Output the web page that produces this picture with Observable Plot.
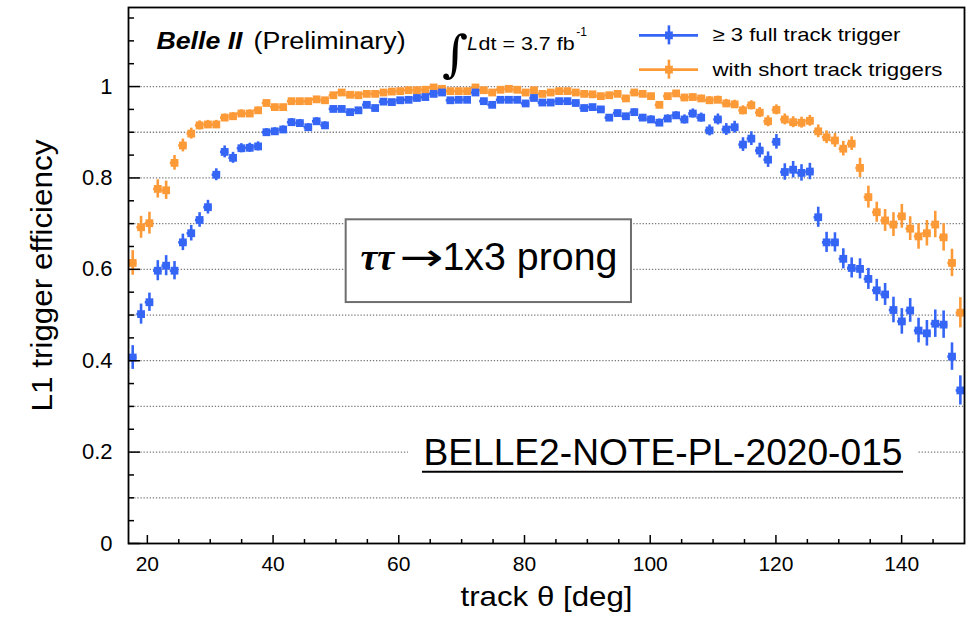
<!DOCTYPE html>
<html><head><meta charset="utf-8">
<script src="https://cdn.jsdelivr.net/npm/d3@7"></script>
<script src="https://cdn.jsdelivr.net/npm/@observablehq/plot@0.6"></script>
<style>
body{margin:0;background:#fff}
svg{font-family:"Liberation Sans",Arial,Helvetica,sans-serif}
</style>
</head><body><div id="chart"></div>
<script>
// ---- data ----
const theta = [17.67,19.00,20.33,21.66,22.99,24.32,25.65,26.98,28.31,29.64,30.97,32.30,33.63,34.96,36.29,37.62,38.95,40.28,41.61,42.94,44.27,45.60,46.93,48.26,49.59,50.92,52.25,53.58,54.91,56.24,57.57,58.90,60.23,61.56,62.89,64.22,65.55,66.88,68.21,69.54,70.87,72.20,73.53,74.86,76.19,77.52,78.85,80.18,81.51,82.84,84.17,85.50,86.83,88.16,89.49,90.82,92.15,93.48,94.81,96.14,97.47,98.80,100.13,101.46,102.79,104.12,105.45,106.78,108.11,109.44,110.77,112.10,113.43,114.76,116.09,117.42,118.75,120.08,121.41,122.74,124.07,125.40,126.73,128.06,129.39,130.72,132.05,133.38,134.71,136.04,137.37,138.70,140.03,141.36,142.69,144.02,145.35,146.68,148.01,149.34];
const binHalfWidth = 0.665;

const effFull = [0.407,0.502,0.528,0.597,0.608,0.597,0.659,0.679,0.708,0.736,
0.807,0.857,0.844,0.865,0.866,0.869,0.900,0.902,0.906,0.922,
0.920,0.911,0.924,0.915,0.951,0.951,0.944,0.948,0.960,0.953,
0.967,0.966,0.970,0.971,0.975,0.977,0.984,0.987,0.970,0.971,
0.971,0.987,0.968,0.960,0.971,0.971,0.971,0.963,0.975,0.965,
0.965,0.968,0.968,0.964,0.953,0.955,0.950,0.932,0.942,0.935,
0.944,0.932,0.928,0.921,0.930,0.937,0.928,0.941,0.932,0.904,
0.928,0.906,0.911,0.873,0.886,0.860,0.840,0.879,0.813,0.818,
0.811,0.814,0.714,0.659,0.659,0.623,0.603,0.601,0.579,0.554,
0.545,0.511,0.486,0.510,0.466,0.460,0.481,0.479,0.409,0.335];
const errFull = [0.026,0.022,0.020,0.022,0.022,0.020,0.018,0.017,0.016,0.015,
0.013,0.013,0.012,0.010,0.010,0.010,0.008,0.008,0.008,0.008,
0.008,0.008,0.008,0.008,0.006,0.006,0.006,0.006,0.006,0.006,
0.006,0.006,0.006,0.006,0.006,0.006,0.006,0.006,0.006,0.006,
0.006,0.006,0.006,0.006,0.006,0.006,0.006,0.006,0.006,0.006,
0.006,0.006,0.006,0.006,0.006,0.006,0.006,0.006,0.006,0.006,
0.007,0.007,0.008,0.008,0.008,0.008,0.010,0.010,0.010,0.012,
0.012,0.013,0.013,0.015,0.015,0.016,0.017,0.016,0.018,0.018,
0.018,0.018,0.022,0.022,0.021,0.022,0.022,0.022,0.023,0.024,
0.024,0.028,0.028,0.026,0.027,0.028,0.030,0.030,0.030,0.032];

const effShort = [0.614,0.692,0.701,0.776,0.773,0.833,0.871,0.897,0.915,0.917,
0.917,0.932,0.935,0.941,0.941,0.948,0.964,0.955,0.955,0.968,
0.968,0.968,0.972,0.970,0.981,0.987,0.982,0.981,0.984,0.984,
0.987,0.989,0.990,0.992,0.992,0.993,0.998,0.995,0.990,0.990,
0.990,0.998,0.992,0.987,0.993,0.995,0.993,0.987,0.992,0.984,
0.987,0.990,0.990,0.987,0.984,0.983,0.979,0.981,0.984,0.974,
0.987,0.984,0.979,0.960,0.979,0.985,0.976,0.977,0.974,0.970,
0.971,0.963,0.961,0.948,0.959,0.943,0.924,0.949,0.928,0.922,
0.921,0.925,0.902,0.889,0.882,0.864,0.875,0.822,0.758,0.725,
0.707,0.698,0.716,0.689,0.672,0.679,0.698,0.670,0.614,0.505];
const errShort = [0.027,0.024,0.024,0.020,0.020,0.016,0.014,0.012,0.010,0.009,
0.009,0.008,0.008,0.008,0.008,0.007,0.006,0.006,0.006,0.006,
0.005,0.005,0.005,0.005,0.005,0.005,0.005,0.005,0.005,0.005,
0.005,0.005,0.005,0.005,0.005,0.005,0.005,0.005,0.005,0.005,
0.005,0.005,0.005,0.005,0.005,0.005,0.005,0.005,0.005,0.005,
0.005,0.005,0.005,0.005,0.005,0.005,0.005,0.005,0.005,0.005,
0.005,0.005,0.006,0.006,0.006,0.006,0.007,0.007,0.007,0.008,
0.008,0.009,0.009,0.010,0.010,0.011,0.012,0.011,0.012,0.012,
0.012,0.012,0.014,0.014,0.015,0.016,0.015,0.021,0.024,0.022,
0.024,0.026,0.026,0.026,0.028,0.028,0.029,0.030,0.030,0.033];

const seriesNames = ["≥ 3 full track trigger", "with short track triggers"];
const seriesColors = ["#3565f5", "#fd9a38"];

const yLabelTicks = [0, 0.2, 0.4, 0.6, 0.8, 1];
const yMinorTicks = [0.05,0.1,0.15,0.25,0.3,0.35,0.45,0.5,0.55,0.65,0.7,0.75,0.85,0.9,0.95,1.05,1.1,1.15];
const yGridTicks = [0.1,0.2,0.3,0.4,0.5,0.6,0.7,0.8,0.9,1.0];
const xLabelTicks = [20, 40, 60, 80, 100, 120, 140];
const xMinorTicks = [25,30,35,45,50,55,65,70,75,85,90,95,105,110,115,125,130,135,145];

const xTitle = "track θ [deg]";
const yTitle = "L1 trigger efficiency";

// ---- build rows (short first so full-track points sit on top) ----
const rows = [];
[[1, effShort, errShort], [0, effFull, errFull]].forEach(([k, eff, err]) => {
  theta.forEach((t, i) => rows.push({theta: t, eff: eff[i], err: err[i], series: seriesNames[k]}));
});

// legend rows (positions in data units of the plot frame)
const legend = seriesNames.map((name, k) => ({name, y: [1.112, 1.037][k]}));

const chart = Plot.plot({
  width: 971, height: 620,
  marginLeft: 128, marginRight: 7, marginTop: 7, marginBottom: 77,
  x: {domain: [17, 150], label: null},
  y: {domain: [0, 1.173], label: null},
  color: {domain: seriesNames, range: seriesColors},
  style: {fontFamily: '"Liberation Sans", Arial, sans-serif', background: "#fff", color: "#000"},
  marks: [
    Plot.gridY(yGridTicks, {stroke: "#7a7a7a", strokeOpacity: 1, strokeWidth: 1.3, strokeDasharray: "1.3,1.8"}),
    // note box
    Plot.rect([0], {x1: 51.63, x2: 97.02, y1: 0.5273, y2: 0.7084, fill: "#fff", stroke: "#6e6e6e", strokeWidth: 2}),
    Plot.text(["ττ"], {x: 53.9, y: 0.625, textAnchor: "start", fontSize: 38, fontWeight: "bold", fontStyle: "italic", fontFamily: '"Liberation Serif", "DejaVu Serif", serif', fill: "#000"}),
    Plot.text(["→"], {x: 60.1, y: 0.625, textAnchor: "start", fontSize: 38, fontFamily: '"DejaVu Sans", sans-serif', fill: "#000"}),
    Plot.text(["1x3 prong"], {x: 66.95, y: 0.625, textAnchor: "start", fontSize: 38, fill: "#000"}),
    // BELLE2 note label with white backing
    Plot.rect([0], {x1: 61.54, x2: 142.52, y1: 0.1264, y2: 0.2578, fill: "#fff"}),
    Plot.text(["BELLE2-NOTE-PL-2020-015"], {x: 102.03, y: 0.1985, textAnchor: "middle", fontSize: 37, fill: "#000"}),
    Plot.ruleY([0.157], {x1: 63.77, x2: 140.3, stroke: "#000", strokeWidth: 2}),
    // data: error bars and markers
    Plot.ruleX(rows, {x: "theta", y1: d => d.eff - d.err, y2: d => d.eff + d.err, stroke: "series", strokeWidth: 2.6}),
    Plot.ruleY(rows, {y: "eff", x1: d => d.theta - binHalfWidth, x2: d => d.theta + binHalfWidth, stroke: "series", strokeWidth: 2.6}),
    Plot.dot(rows, {x: "theta", y: "eff", symbol: "square", r: 4.4, fill: "series", stroke: null}),
    // frame and axes
    Plot.frame({stroke: "#000", strokeWidth: 1.8}),
    Plot.axisY(yLabelTicks, {tickSize: -12, tickFormat: () => "", strokeWidth: 1.5}),
    Plot.axisY(yMinorTicks, {tickSize: -6, tickFormat: () => "", strokeWidth: 1.5}),
    Plot.axisY(yLabelTicks, {tickSize: 0, tickPadding: 16, fontSize: 22, tickFormat: d => String(d)}),
    Plot.axisX(xLabelTicks, {tickSize: -8, tickFormat: () => "", strokeWidth: 1.5}),
    Plot.axisX(xMinorTicks, {tickSize: -4, tickFormat: () => "", strokeWidth: 1.5}),
    Plot.axisX(xLabelTicks, {tickSize: 0, tickPadding: 13, fontSize: 21, tickFormat: d => String(d)}),
    Plot.text([yTitle], {frameAnchor: "left", textAnchor: "middle", dx: -86, rotate: -90, fontSize: 30, fill: "#000"}),
    Plot.text([xTitle], {frameAnchor: "bottom", textAnchor: "middle", dy: 62, fontSize: 28, fill: "#000"}),
    // header annotations
    Plot.text(["Belle II"], {x: 21.45, y: 1.0975, textAnchor: "start", fontSize: 23, fontWeight: "bold", fontStyle: "italic", fill: "#000"}),
    Plot.text(["(Preliminary)"], {x: 36.9, y: 1.0975, textAnchor: "start", fontSize: 23, fill: "#000"}),
    Plot.text(["∫"], {x: 69.0, y: 1.07, textAnchor: "middle", fontSize: 50, fontFamily: '"DejaVu Serif", "Liberation Serif", serif', fill: "#000"}),
    Plot.text(["L"], {x: 70.9, y: 1.094, textAnchor: "start", fontSize: 19, fontStyle: "italic", fill: "#000"}),
    Plot.text(["dt = 3.7 fb"], {x: 72.7, y: 1.094, textAnchor: "start", fontSize: 19, fill: "#000"}),
    Plot.text(["-1"], {x: 88.25, y: 1.118, textAnchor: "start", fontSize: 12, fill: "#000"}),
    // legend
    Plot.ruleY(legend, {y: "y", x1: 98.29, x2: 107.68, stroke: "name", strokeWidth: 2.6}),
    Plot.ruleX(legend, {x: 102.98, y1: d => d.y - 0.0208, y2: d => d.y + 0.0208, stroke: "name", strokeWidth: 2.6}),
    Plot.dot(legend, {x: 102.98, y: "y", symbol: "square", r: 4.4, fill: "name", stroke: null}),
    Plot.text(legend, {x: 109.9, y: "y", text: "name", textAnchor: "start", fontSize: 19, fill: "#000"})
  ]
});

// fit horizontally stretched labels to the reference widths
const fitWidths = new Map([
  ["≥ 3 full track trigger", 188], ["with short track triggers", 230],
  ["Belle II", 86], ["(Preliminary)", 152], ["dt = 3.7 fb", 96],
  ["→", 44], ["1x3 prong", 175], ["BELLE2-NOTE-PL-2020-015", 479],
  [xTitle, 172], [yTitle, 272]
]);
d3.select(chart).selectAll("text").each(function () {
  const t = this.textContent;
  if (fitWidths.has(t)) {
    this.setAttribute("textLength", fitWidths.get(t));
    this.setAttribute("lengthAdjust", "spacingAndGlyphs");
  }
});
document.getElementById("chart").appendChild(chart);
</script>
</body></html>
